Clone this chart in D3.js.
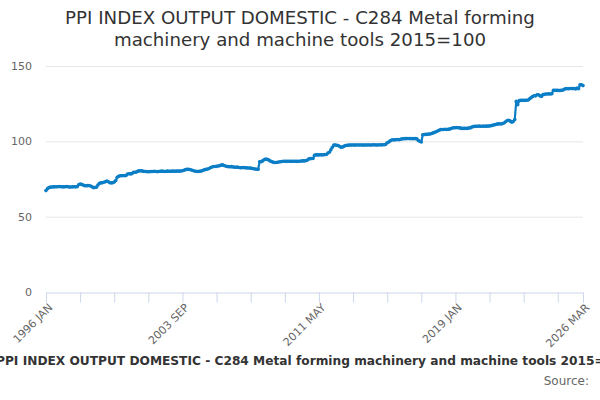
<!DOCTYPE html>
<html>
<head>
<meta charset="utf-8">
<script src="https://cdn.jsdelivr.net/npm/d3@7"></script>
<style>
  body { margin: 0; background: #fff; }
  svg { font-family: "DejaVu Sans", sans-serif; }
</style>
</head>
<body>
<div id="chart"></div>
<script>
// monthly index values, 1996 JAN .. 2026 MAR
const values1996_2005 = [
  67.3, 68.6, 69.3, 69.6, 69.7, 69.8, 69.8, 69.9, 69.9, 70.0, 69.9, 69.8,
  69.8, 69.9, 70.0, 69.8, 69.7, 69.7, 69.8, 69.9, 69.8, 69.9, 71.2, 71.6,
  71.4, 71.0, 70.6, 70.5, 70.6, 70.7, 70.4, 69.8, 69.3, 69.4, 69.6, 71.0,
  72.2, 72.4, 72.5, 72.8, 73.2, 73.6, 73.2, 72.6, 72.4, 72.5, 73.0, 74.0,
  76.1, 76.8, 77.2, 77.2, 77.3, 77.2, 77.4, 78.3, 78.5, 78.4, 78.6, 79.4,
  79.5, 79.6, 80.2, 80.4, 80.5, 80.2, 80.1, 80.0, 79.9, 79.8, 79.9, 80.0,
  80.0, 80.1, 80.0, 79.9, 80.0, 80.1, 80.2, 80.1, 80.0, 80.1, 80.2, 80.1,
  80.1, 80.2, 80.2, 80.1, 80.2, 80.3, 80.2, 80.3, 80.5, 80.8, 81.2, 81.4,
  81.4, 81.3, 81.0, 80.6, 80.3, 80.1, 80.0, 80.1, 80.1, 80.4, 80.8, 81.2,
  81.4, 81.6, 82.0, 82.6, 83.0, 83.3, 83.3, 83.4, 83.6, 83.8, 84.2, 84.4
];
const values2006_2015 = [
  84.0, 83.6, 83.3, 83.2, 83.1, 83.2, 83.0, 82.9, 82.8, 82.9, 82.6, 82.5,
  82.5, 82.6, 82.5, 82.4, 82.3, 82.3, 82.2, 82.0, 81.8, 81.6, 81.5, 81.4,
  86.4, 86.5, 87.0, 87.8, 88.2, 88.0, 87.7, 87.0, 86.6, 86.2, 86.0, 86.0,
  86.1, 86.3, 86.4, 86.6, 86.8, 86.8, 86.7, 86.8, 86.8, 86.7, 86.8, 86.8,
  86.8, 86.7, 86.8, 86.8, 86.9, 87.0, 87.0, 87.1, 87.4, 88.2, 88.5, 88.6,
  88.6, 90.8, 91.0, 91.0, 91.0, 91.1, 91.0, 91.1, 91.2, 91.3, 92.2, 92.8,
  94.3, 96.0, 97.5, 97.6, 97.4, 97.2, 96.6, 96.0, 96.3, 96.8, 97.2, 97.4,
  97.5, 97.5, 97.6, 97.6, 97.5, 97.6, 97.6, 97.6, 97.6, 97.6, 97.5, 97.6,
  97.6, 97.6, 97.6, 97.6, 97.6, 97.7, 97.6, 97.6, 97.6, 97.7, 97.6, 97.7,
  97.7, 98.0, 99.1, 99.5, 100.3, 100.9, 101.0, 101.0, 101.1, 101.2, 101.1, 101.4
];
const values2016_2026 = [
  101.6, 101.7, 101.8, 101.8, 101.9, 101.8, 101.8, 101.7, 101.8, 101.8, 101.6, 100.5,
  100.0, 99.6, 104.4, 104.5, 104.6, 104.7, 104.8, 104.9, 105.2, 105.6, 106.0, 106.4,
  106.9, 107.4, 107.8, 107.9, 107.9, 108.0, 107.9, 108.0, 108.1, 108.5, 108.8, 109.0,
  109.0, 109.1, 109.0, 108.9, 108.6, 108.6, 108.6, 108.7, 108.6, 108.8, 108.9, 109.4,
  109.8, 109.9, 110.0, 110.0, 110.1, 110.0, 110.0, 110.1, 110.0, 110.1, 110.1, 110.2,
  110.4, 110.6, 110.9, 111.2, 111.4, 111.6, 111.6, 111.5, 111.8, 112.3, 113.2, 113.8,
  114.0, 113.4, 112.7, 113.2, 114.5, 126.5, 124.3, 127.0, 127.2, 127.2, 127.3, 127.2,
  127.3, 127.4, 128.2, 129.0, 129.8, 130.3, 130.2, 130.9, 130.9, 130.2, 129.8, 131.0,
  131.2, 131.4, 131.4, 131.5, 131.4, 131.6, 133.8, 133.9, 133.8, 133.8, 133.7, 133.8,
  133.9, 134.3, 134.9, 135.0, 134.9, 135.0, 135.1, 135.0, 135.1, 134.8, 135.4, 134.9,
  137.5, 137.6, 137.0
];
const values = [...values1996_2005, ...values2006_2015, ...values2016_2026];

const monthNames = ["JAN", "FEB", "MAR", "APR", "MAY", "JUN", "JUL", "AUG", "SEP", "OCT", "NOV", "DEC"];
const startYear = 1996;
const categories = values.map((_, i) => `${startYear + Math.floor(i / 12)} ${monthNames[i % 12]}`);

const yTicks = [0, 50, 100, 150];
const tickEvery = 23;     // a tick mark every 23 months
const labelEvery = 4;     // a label on every 4th tick

const titleLines = ["PPI INDEX OUTPUT DOMESTIC - C284 Metal forming", "machinery and machine tools 2015=100"];
const legendText = "PPI INDEX OUTPUT DOMESTIC - C284 Metal forming machinery and machine tools 2015=100";

const width = 600, height = 400;
const margin = { top: 66, right: 17, bottom: 108, left: 46 };
const lineColor = "#0b7ec6";

const svg = d3.select("#chart").append("svg")
  .attr("width", width)
  .attr("height", height);

const x = d3.scaleLinear()
  .domain([0, values.length - 1])
  .range([margin.left, width - margin.right]);

const y = d3.scaleLinear()
  .domain([0, 150])
  .range([height - margin.bottom, margin.top]);

// title
svg.append("text")
  .attr("x", width / 2)
  .attr("y", 24)
  .attr("text-anchor", "middle")
  .attr("font-size", 18.2)
  .attr("fill", "#333")
  .selectAll("tspan")
  .data(titleLines)
  .join("tspan")
  .attr("x", width / 2)
  .attr("dy", (d, i) => (i === 0 ? 0 : 22))
  .text(d => d);

// gridlines
svg.append("g")
  .selectAll("line")
  .data(yTicks.filter(d => d > 0))
  .join("line")
  .attr("x1", margin.left)
  .attr("x2", width - margin.right)
  .attr("y1", d => y(d) + 0.5)
  .attr("y2", d => y(d) + 0.5)
  .attr("stroke", "#e6e6e6");

// y labels
svg.append("g")
  .selectAll("text")
  .data(yTicks)
  .join("text")
  .attr("x", 32)
  .attr("y", d => y(d) + 4)
  .attr("text-anchor", "end")
  .attr("font-size", 11)
  .attr("fill", "#666")
  .text(d => d);

// x axis
const tickIdx = d3.range(0, values.length, tickEvery);
tickIdx.push(values.length - 1);
const labelIdx = tickIdx.filter((d, i) => i % labelEvery === 0 && d < values.length - 1 - tickEvery);
labelIdx.push(values.length - 1);

const xAxis = d3.axisBottom(x)
  .tickValues(tickIdx)
  .tickSize(10)
  .tickFormat(d => (labelIdx.includes(d) ? categories[d] : ""));

const gx = svg.append("g")
  .attr("transform", `translate(0,${y(0) + 0.5})`)
  .call(xAxis);

gx.select(".domain").attr("stroke", "#ccd6eb");
gx.selectAll(".tick line").attr("stroke", "#ccd6eb");
gx.selectAll(".tick text")
  .attr("font-family", "DejaVu Sans, sans-serif")
  .attr("font-size", 11)
  .attr("fill", "#666")
  .attr("text-anchor", "end")
  .attr("x", 0)
  .attr("y", 0)
  .attr("dy", "0.35em")
  .attr("transform", "translate(4,13) rotate(-45)");

// series line
const line = d3.line()
  .x((d, i) => x(i))
  .y(d => y(d));

svg.append("path")
  .datum(values)
  .attr("fill", "none")
  .attr("stroke", lineColor)
  .attr("stroke-width", 2.2)
  .attr("stroke-linejoin", "round")
  .attr("d", line);

svg.append("g")
  .selectAll("circle")
  .data(values)
  .join("circle")
  .attr("cx", (d, i) => x(i))
  .attr("cy", d => y(d))
  .attr("r", 1.8)
  .attr("fill", lineColor);

// legend and source
svg.append("text")
  .attr("x", -4)
  .attr("y", 365)
  .attr("text-anchor", "start")
  .attr("font-size", 12.2)
  .attr("font-weight", "bold")
  .attr("fill", "#333")
  .text(legendText);

svg.append("text")
  .attr("x", 589)
  .attr("y", 385)
  .attr("text-anchor", "end")
  .attr("font-size", 12)
  .attr("fill", "#666")
  .text("Source:");
</script>
</body>
</html>
